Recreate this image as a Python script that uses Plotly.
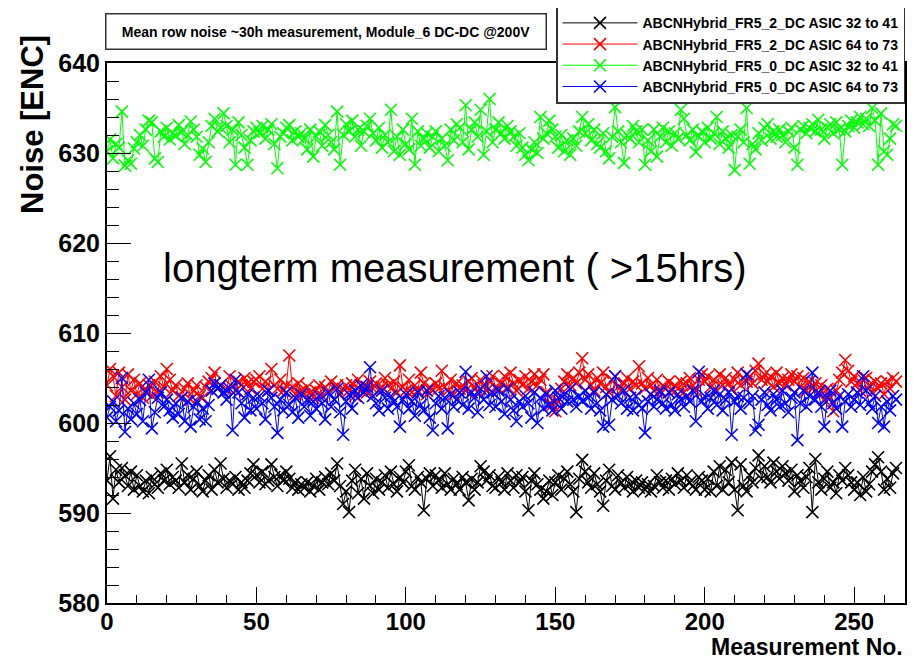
import plotly.graph_objects as go

x_vals = list(range(265))

black = [
593.6, 596.3, 591.6, 594.8, 593.4, 595.0, 594.2, 593.0, 594.6, 592.6,
594.2, 593.0, 592.4, 593.6, 592.2, 594.0, 593.2, 592.8, 594.4, 593.6,
594.8, 593.2, 594.0, 593.6, 592.8, 595.5, 593.4, 594.2, 592.6, 593.8,
594.6, 593.0, 592.4, 593.6, 594.2, 592.6, 594.8, 593.4, 595.5, 593.8,
592.8, 593.6, 593.2, 594.0, 592.6, 593.4, 592.8, 593.6, 594.4, 595.4,
594.2, 593.4, 594.6, 593.2, 593.6, 595.4, 594.0, 593.0, 594.2, 593.6,
594.6, 593.8, 592.8, 593.4, 592.6, 593.2, 592.8, 593.4, 592.4, 593.0,
593.8, 592.6, 593.4, 594.0, 593.2, 594.4, 593.6, 595.5, 593.0, 591.0,
592.4, 590.1, 593.6, 594.8, 592.2, 593.8, 591.6, 594.4, 593.0, 592.2,
593.8, 592.6, 593.4, 594.2, 592.8, 594.6, 593.2, 592.4, 594.0, 593.4,
594.6, 595.3, 593.0, 592.6, 594.0, 593.4, 590.3, 593.8, 594.4, 593.0,
594.2, 593.6, 592.8, 594.4, 593.2, 592.6, 593.8, 593.2, 592.6, 594.0,
593.4, 591.4, 593.8, 592.6, 593.4, 595.2, 594.6, 593.6, 594.2, 593.0,
592.8, 594.0, 593.4, 592.6, 594.4, 593.6, 592.8, 594.2, 593.4, 594.0,
592.4, 590.3, 593.6, 594.4, 593.2, 592.6, 591.6, 592.4, 593.6, 592.0,
593.4, 594.2, 592.6, 593.8, 594.6, 593.2, 592.4, 590.1, 593.8, 595.9,
594.6, 593.4, 592.8, 594.4, 593.2, 592.4, 590.8, 593.6, 594.8, 593.0,
592.6, 594.2, 593.4, 592.8, 594.0, 593.2, 592.4, 593.6, 592.8, 593.4,
592.6, 593.2, 592.4, 593.0, 594.2, 593.4, 592.8, 593.6, 592.6, 593.8,
593.2, 594.4, 593.6, 592.8, 594.2, 593.4, 593.0, 592.6, 594.0, 593.6,
592.6, 593.8, 592.4, 594.6, 593.0, 595.2, 592.6, 594.8, 593.4, 595.6,
592.6, 590.3, 595.4, 593.0, 592.4, 594.2, 593.4, 595.0, 596.4, 593.8,
595.2, 594.0, 593.4, 595.6, 594.6, 593.8, 595.2, 594.4, 593.6, 594.8,
592.4, 594.2, 593.6, 592.8, 594.0, 595.0, 590.1, 596.0, 593.4, 592.6,
593.8, 594.6, 592.8, 593.4, 592.2, 594.2, 593.6, 595.0, 594.2, 593.4,
592.6, 593.4, 592.0, 594.0, 592.4, 593.2, 594.6, 595.4, 596.2, 594.6,
592.6, 593.8, 592.8, 594.4, 595.0,
]

red = [
604.2, 606.0, 605.2, 603.0, 605.6, 604.0, 602.6, 605.4, 603.6, 604.8,
603.2, 604.4, 602.8, 603.6, 604.2, 603.0, 604.6, 603.4, 605.2, 604.0,
606.0, 604.8, 603.6, 604.2, 603.0, 602.8, 603.8, 604.4, 602.6, 603.6,
604.2, 603.0, 602.8, 604.0, 604.6, 605.0, 605.6, 603.8, 604.2, 603.4,
603.8, 605.2, 604.0, 603.6, 604.6, 604.2, 605.0, 604.4, 603.8, 604.6,
604.8, 605.2, 603.8, 604.6, 603.6, 606.0, 604.2, 603.8, 604.8, 603.6,
604.2, 607.5, 604.0, 603.2, 604.4, 603.6, 603.2, 604.0, 603.4, 602.8,
603.6, 604.2, 603.0, 604.0, 603.4, 604.6, 603.8, 604.2, 603.2, 603.8,
604.2, 603.6, 604.4, 603.0, 604.8, 603.6, 604.2, 603.4, 604.6, 603.8,
604.4, 603.6, 604.0, 605.0, 604.2, 603.8, 604.6, 603.4, 606.4, 604.0,
603.6, 604.8, 603.4, 604.2, 603.6, 605.6, 604.4, 603.2, 604.0, 603.6,
604.4, 603.8, 605.8, 604.0, 603.6, 604.8, 603.2, 604.4, 603.8, 604.2,
603.6, 604.6, 605.0, 604.0, 603.4, 604.8, 604.2, 603.6, 604.6, 605.2,
604.0, 603.8, 604.4, 605.2, 604.0, 605.6, 604.4, 603.6, 604.8, 604.2,
605.2, 603.8, 604.6, 605.4, 604.2, 604.8, 605.4, 603.4, 602.2, 602.0,
601.3, 602.4, 603.8, 604.6, 605.4, 604.2, 605.0, 604.4, 605.6, 607.2,
604.8, 605.4, 604.2, 603.6, 605.0, 604.4, 605.6, 604.0, 603.4, 604.8,
605.2, 604.0, 603.6, 604.4, 605.0, 603.8, 604.6, 604.2, 606.3, 604.4,
603.8, 605.0, 604.2, 603.6, 604.8, 603.4, 604.2, 603.8, 604.6, 603.6,
604.2, 603.8, 604.6, 603.4, 604.4, 605.0, 604.2, 603.6, 604.8, 605.4,
604.6, 605.2, 604.0, 604.8, 603.6, 605.4, 604.2, 605.0, 604.4, 603.8,
604.8, 605.6, 604.2, 605.0, 604.6, 605.2, 604.4, 605.8, 606.6, 604.8,
605.4, 604.6, 605.2, 604.0, 605.6, 604.4, 605.0, 604.2, 604.8, 605.4,
604.6, 605.2, 604.0, 605.0, 603.6, 604.6, 603.8, 604.4, 603.2, 604.2,
602.6, 603.8, 602.8, 601.3, 603.6, 604.8, 605.6, 607.0, 605.8, 604.6,
605.2, 604.4, 603.6, 604.8, 605.0, 604.2, 603.4, 604.6, 603.8, 604.4,
603.2, 604.6, 603.8, 605.0, 604.6,
]

green = [
630.2, 631.5, 629.4, 631.0, 630.6, 634.6, 628.6, 629.2, 628.8, 630.5,
631.2, 632.0, 630.8, 632.6, 633.6, 633.4, 629.4, 629.0, 632.4, 631.8,
632.8, 631.5, 632.2, 631.9, 633.1, 632.3, 631.0, 632.0, 633.5, 632.6,
631.8, 629.8, 630.5, 629.0, 631.2, 633.0, 633.8, 632.4, 632.8, 634.4,
633.0, 631.2, 632.6, 628.7, 633.4, 632.0, 630.6, 628.7, 631.4, 632.4,
632.8, 632.2, 633.0, 631.6, 632.6, 633.2, 631.0, 628.3, 631.8, 632.2,
632.8, 633.1, 631.4, 632.4, 631.8, 632.2, 631.6, 630.4, 632.6, 629.6,
631.8, 632.4, 630.8, 633.1, 632.0, 631.2, 630.4, 634.6, 628.7, 632.0,
633.2, 632.4, 633.6, 631.8, 632.6, 630.8, 632.4, 633.0, 633.8, 632.2,
631.4, 632.8, 630.6, 632.0, 631.2, 634.8, 630.2, 631.8, 629.8, 632.6,
631.0, 630.4, 633.8, 628.7, 632.4, 630.8, 631.6, 632.2, 630.6, 631.8,
632.4, 630.2, 631.6, 630.8, 629.2, 632.6, 631.4, 633.2, 632.8, 631.2,
635.3, 630.4, 632.6, 633.4, 631.8, 634.8, 629.8, 632.4, 636.0, 631.2,
632.6, 633.4, 632.2, 631.6, 633.0, 632.4, 631.8, 630.8, 632.2, 630.6,
629.8, 629.2, 630.4, 631.2, 630.0, 634.0, 631.6, 632.2, 633.6, 632.6,
631.8, 630.6, 632.0, 630.2, 631.4, 629.8, 631.6, 630.8, 632.4, 634.0,
632.2, 633.2, 631.4, 632.6, 631.0, 630.6, 632.2, 630.2, 629.4, 631.8,
635.1, 632.4, 631.2, 628.9, 632.0, 631.6, 633.0, 632.4, 631.2, 632.6,
628.7, 631.4, 630.2, 632.6, 629.6, 631.8, 632.8, 631.2, 632.4, 630.8,
632.2, 631.6, 634.8, 633.8, 632.0, 631.4, 632.6, 630.1, 631.8, 632.4,
631.2, 632.8, 631.6, 632.2, 634.0, 631.0, 632.4, 631.6, 630.6, 632.0,
628.1, 631.8, 632.6, 631.2, 635.0, 628.8, 631.0, 630.4, 632.2, 631.4,
632.8, 633.2, 631.6, 632.4, 631.8, 632.6, 632.0, 631.2, 632.4, 632.8,
630.6, 628.7, 632.6, 633.0, 632.2, 632.8, 633.2, 632.4, 633.7, 632.6,
631.6, 632.8, 633.2, 632.2, 633.4, 632.6, 628.7, 632.4, 633.0, 633.6,
632.8, 633.4, 634.0, 633.2, 633.8, 633.0, 635.0, 633.6, 628.7, 634.4,
630.2, 629.8, 631.6, 633.2, 633.0,
]

blue = [
600.6, 601.8, 602.4, 600.2, 601.4, 605.0, 599.0, 601.6, 600.4, 602.2,
601.0, 602.6, 600.2, 603.4, 604.8, 599.4, 601.2, 602.8, 603.4, 601.8,
602.6, 601.4, 600.6, 602.2, 601.0, 602.8, 600.2, 602.4, 599.6, 601.8,
602.4, 600.4, 601.6, 600.2, 602.0, 603.6, 604.4, 603.8, 604.2, 603.4,
602.6, 603.8, 599.2, 604.8, 603.4, 602.2, 600.6, 603.2, 601.4, 602.8,
601.6, 603.0, 602.2, 600.4, 603.6, 602.8, 601.8, 598.9, 602.6, 601.4,
603.4, 602.0, 601.2, 602.8, 600.6, 603.2, 601.8, 602.6, 600.8, 602.4,
601.6, 603.0, 602.2, 600.4, 603.4, 601.8, 602.6, 603.8, 601.2, 598.7,
602.4, 603.2, 601.6, 603.6, 602.8, 604.2, 603.4, 604.0, 606.2, 603.0,
602.2, 601.4, 603.6, 602.8, 601.6, 603.0, 602.4, 601.8, 599.6, 602.6,
603.2, 601.6, 602.4, 600.8, 603.4, 602.0, 601.4, 603.6, 600.6, 599.2,
602.2, 603.0, 601.6, 602.8, 599.4, 603.2, 601.8, 602.6, 603.4, 602.0,
605.7, 601.6, 603.4, 602.8, 601.2, 603.8, 602.6, 605.2, 602.0, 603.4,
601.8, 603.6, 602.4, 601.0, 603.8, 602.6, 601.4, 600.2, 602.4, 601.8,
603.0, 602.2, 600.6, 603.4, 600.0, 602.8, 601.6, 603.2, 602.0, 601.4,
603.6, 602.8, 601.6, 603.2, 602.4, 603.8, 602.6, 601.8, 603.0, 602.4,
603.6, 602.8, 601.6, 603.4, 602.2, 601.4, 599.6, 603.2, 599.8, 602.6,
605.2, 603.0, 602.2, 603.6, 601.6, 602.8, 601.4, 603.0, 602.0, 601.6,
598.9, 602.4, 603.2, 601.8, 602.6, 603.6, 602.2, 601.6, 603.4, 602.0,
601.4, 603.2, 602.6, 601.8, 603.0, 602.4, 603.6, 600.2, 605.7, 602.4,
603.0, 601.6, 602.8, 603.6, 602.0, 603.2, 601.4, 602.6, 603.4, 598.7,
602.4, 603.0, 601.6, 602.8, 605.4, 602.2, 603.0, 599.2, 599.8, 602.6,
603.4, 602.0, 601.4, 603.2, 602.6, 601.8, 603.6, 602.2, 601.2, 602.8,
603.4, 598.1, 602.2, 603.6, 601.8, 603.0, 605.6, 602.6, 603.4, 601.8,
599.6, 602.8, 603.6, 602.2, 601.6, 603.0, 599.6, 602.4, 603.2, 601.8,
602.6, 603.4, 602.0, 605.2, 603.6, 602.2, 601.6, 603.0, 600.0, 601.8,
599.6, 602.4, 601.4, 603.0, 602.6,
]

names = [
    "ABCNHybrid_FR5_2_DC ASIC 32 to 41",
    "ABCNHybrid_FR5_2_DC ASIC 64 to 73",
    "ABCNHybrid_FR5_0_DC ASIC 32 to 41",
    "ABCNHybrid_FR5_0_DC ASIC 64 to 73",
]
colors = ["#000000", "#ff0000", "#00ff00", "#0000ff"]
series = [black, red, green, blue]

x_ticks = [0, 50, 100, 150, 200, 250]
y_ticks = [580, 590, 600, 610, 620, 630, 640]

title_text = "Mean row noise ~30h measurement, Module_6 DC-DC @200V"
note_text = "longterm measurement ( >15hrs)"
y_title = "Noise [ENC]"
x_title = "Measurement No."

BOLD = "Liberation Sans Narrow, Liberation Sans, Arial, sans-serif"

fig = go.Figure()
for name, col, ys in zip(names, colors, series):
    fig.add_trace(go.Scatter(
        x=x_vals, y=ys, name=name, mode="lines+markers",
        line=dict(color=col, width=1),
        marker=dict(symbol="x-thin", size=12, color=col,
                    line=dict(color=col, width=1.6)),
    ))

# page body has an 8px margin, so the figure is 8px smaller and shifted
fig.update_layout(
    width=908, height=654,
    paper_bgcolor="white", plot_bgcolor="white",
    margin=dict(l=99, r=11, t=55, b=59, autoexpand=False),
    showlegend=True,
    legend=dict(
        x=1.0, y=1.106, xanchor="right", yanchor="top",
        bgcolor="white", bordercolor="#333333", borderwidth=1.5,
        font=dict(family="Liberation Sans, Arial", size=14, color="black",
                  weight="bold"),
        tracegroupgap=0, itemwidth=75,
    ),
    xaxis=dict(
        range=[0, 267], tickvals=x_ticks, ticktext=[str(v) for v in x_ticks],
        ticks="inside", ticklen=16, tickwidth=1.2, tickcolor="black",
        minor=dict(dtick=10, ticks="inside", ticklen=8, tickwidth=1.2,
                   tickcolor="black", showgrid=False),
        showline=True, linecolor="black", linewidth=2, mirror=True,
        showgrid=False, zeroline=False, ticklabelstandoff=-4,
        tickfont=dict(family=BOLD, size=24, color="black", weight="bold"),
    ),
    yaxis=dict(
        range=[580, 640], tickvals=y_ticks, ticktext=[str(v) for v in y_ticks],
        ticks="inside", ticklen=24, tickwidth=1.2, tickcolor="black",
        minor=dict(dtick=2, ticks="inside", ticklen=12, tickwidth=1.2,
                   tickcolor="black", showgrid=False),
        showline=True, linecolor="black", linewidth=2, mirror=True,
        showgrid=False, zeroline=False,
        tickfont=dict(family=BOLD, size=25, color="black", weight="bold"),
    ),
)

fig.add_annotation(
    xref="paper", yref="paper", x=0.274, y=1.059, xanchor="center", yanchor="middle",
    text=title_text, showarrow=False, width=437, height=32,
    bgcolor="white", bordercolor="#333333", borderwidth=1.5,
    font=dict(family="Liberation Sans, Arial", size=14, color="black", weight="bold"),
)
fig.add_annotation(
    xref="paper", yref="paper", x=0.436, y=0.62, xanchor="center", yanchor="middle",
    text=note_text, showarrow=False,
    font=dict(family="Liberation Sans, Arial", size=40, color="black"),
)
fig.add_annotation(
    xref="paper", yref="paper", x=-0.094, y=0.887, xanchor="center", yanchor="middle",
    text=y_title, showarrow=False, textangle=-90,
    font=dict(family="Liberation Sans, Arial", size=31, color="black", weight="bold"),
)
fig.add_annotation(
    xref="paper", yref="paper", x=1.0, y=-0.082, xanchor="right", yanchor="middle",
    text=x_title, showarrow=False,
    font=dict(family=BOLD, size=23, color="black", weight="bold"),
)

fig.write_html("out.html")
